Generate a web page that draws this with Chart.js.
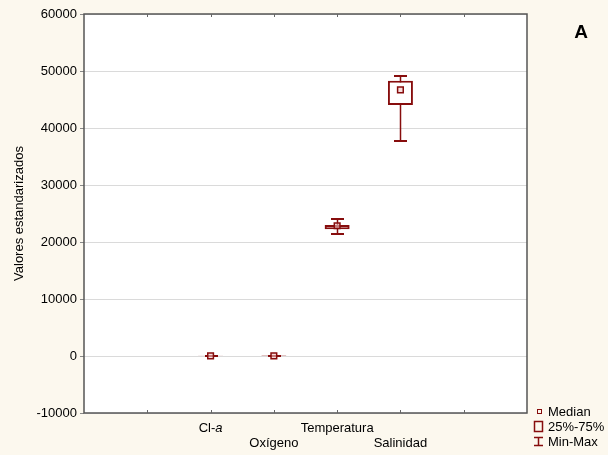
<!DOCTYPE html>
<html>
<head>
<meta charset="utf-8">
<script src="https://cdn.jsdelivr.net/npm/chart.js@4"></script>
<style>
  body { margin: 0; background: #fcf8ee; }
  #chart-root { width: 608px; height: 455px; }
</style>
</head>
<body>
<div id="chart-root"><canvas id="chart-main" width="608" height="455"></canvas></div>
<script>
// values
const categories = ["Cl-a", "Oxígeno", "Temperatura", "Salinidad"];
const mins    = [0, 0, 21350, 37700];
const q1s     = [0, 0, 22230, 44050];
const medians = [30, 10, 22850, 46700];
const q3s     = [40, 20, 22980, 48300];
const maxs    = [60, 40, 24050, 49100];
const yTicks  = [-10000, 0, 10000, 20000, 30000, 40000, 50000, 60000];

const darkRed = "#870d0d";
const fontFamily = "'Liberation Sans', Arial, sans-serif";

// two empty slots each side, like the original plot
const slotLabels = ["", ""].concat(categories, ["", ""]);
const firstSlot = 2;

const boxData = categories.map((c, i) => ({ x: c, y: [q1s[i], q3s[i]] }));
const medianData = categories.map((c, i) => ({ x: c, y: medians[i] }));

const frameAndExtras = {
    id: "frameAndExtras",
    beforeDraw(chart) {
        const ctx = chart.ctx;
        const a = chart.chartArea;
        ctx.save();
        ctx.fillStyle = "#fcf8ee";
        ctx.fillRect(0, 0, chart.width, chart.height);
        ctx.fillStyle = "#ffffff";
        ctx.fillRect(a.left, a.top, a.right - a.left, a.bottom - a.top);
        ctx.restore();
    },
    beforeDatasetsDraw(chart) {
        // whiskers go under the boxes
        const ctx = chart.ctx;
        const xs = chart.scales.x, ys = chart.scales.y;
        ctx.save();
        ctx.strokeStyle = darkRed;
        categories.forEach((c, i) => {
            const x = Math.round(xs.getPixelForValue(i + firstSlot)) + 0.5;
            const yTop = Math.round(ys.getPixelForValue(maxs[i]));
            const yBot = Math.round(ys.getPixelForValue(mins[i]));
            ctx.lineWidth = 1.5;
            ctx.beginPath();
            ctx.moveTo(x, yTop);
            ctx.lineTo(x, yBot);
            ctx.stroke();
            ctx.lineWidth = 2;
            ctx.beginPath();
            ctx.moveTo(x - 6.5, yTop);
            ctx.lineTo(x + 6.5, yTop);
            ctx.moveTo(x - 6.5, yBot);
            ctx.lineTo(x + 6.5, yBot);
            ctx.stroke();
        });
        ctx.restore();
    },
    afterDraw(chart) {
        const ctx = chart.ctx;
        const a = chart.chartArea;
        const xs = chart.scales.x;
        ctx.save();

        // frame
        ctx.strokeStyle = "#555555";
        ctx.lineWidth = 1.5;
        ctx.strokeRect(a.left, a.top, a.right - a.left, a.bottom - a.top);

        // inward x ticks, bottom and top
        ctx.lineWidth = 1;
        ctx.strokeStyle = "#666666";
        for (let k = 1; k < slotLabels.length - 1; k++) {
            const x = Math.round(xs.getPixelForValue(k)) + 0.5;
            ctx.beginPath();
            ctx.moveTo(x, a.bottom);
            ctx.lineTo(x, a.bottom - 3);
            ctx.moveTo(x, a.top);
            ctx.lineTo(x, a.top + 3);
            ctx.stroke();
        }

        // staggered category labels
        ctx.fillStyle = "#000000";
        ctx.textBaseline = "middle";
        const normal = "13px " + fontFamily;
        const italic = "italic 13px " + fontFamily;
        categories.forEach((c, i) => {
            const x = xs.getPixelForValue(i + firstSlot);
            const y = i % 2 === 0 ? a.bottom + 15 : a.bottom + 30;
            if (c === "Cl-a") {
                ctx.font = normal;
                const w1 = ctx.measureText("Cl-").width;
                ctx.font = italic;
                const w2 = ctx.measureText("a").width;
                let start = x - (w1 + w2) / 2;
                ctx.textAlign = "left";
                ctx.font = normal;
                ctx.fillText("Cl-", start, y);
                ctx.font = italic;
                ctx.fillText("a", start + w1, y);
            } else {
                ctx.font = normal;
                ctx.textAlign = "center";
                ctx.fillText(c, x, y);
            }
        });

        // legend
        ctx.font = "13px " + fontFamily;
        ctx.textAlign = "left";
        ctx.strokeStyle = darkRed;
        ctx.lineWidth = 1;
        ctx.strokeRect(537.5, 409.5, 4, 4);
        ctx.fillText("Median", 548, 412);
        ctx.lineWidth = 1.5;
        ctx.strokeRect(534.5, 421.5, 8, 10);
        ctx.fillText("25%-75%", 548, 427);
        ctx.beginPath();
        ctx.moveTo(538.5, 437);
        ctx.lineTo(538.5, 446);
        ctx.moveTo(534, 437.5);
        ctx.lineTo(543, 437.5);
        ctx.moveTo(534, 445.5);
        ctx.lineTo(543, 445.5);
        ctx.stroke();
        ctx.fillText("Min-Max", 548, 442);

        // panel letter
        ctx.font = "bold 19px " + fontFamily;
        ctx.textAlign = "center";
        ctx.fillText("A", 581, 33);
        ctx.restore();
    }
};

const graph = document.getElementById("chart-main");
const myChart = new Chart(graph, {
    type: "bar",
    data: {
        labels: slotLabels,
        datasets: [{
            type: "scatter",
            data: medianData,
            order: 0,
            pointStyle: "rect",
            pointRadius: 4,
            pointBorderWidth: 1.5,
            borderColor: darkRed,
            backgroundColor: "rgba(240,200,200,0.6)"
        }, {
            type: "bar",
            data: boxData,
            order: 1,
            barThickness: 25,
            borderWidth: 2,
            borderSkipped: false,
            inflateAmount: 0,
            borderColor: darkRed,
            backgroundColor: "#ffffff",
            grouped: false
        }]
    },
    options: {
        responsive: false,
        animation: false,
        devicePixelRatio: 1,
        layout: {
            padding: { top: 14, right: 81, bottom: 42, left: 0 }
        },
        plugins: {
            legend: { display: false },
            tooltip: { enabled: false }
        },
        scales: {
            x: {
                type: "category",
                display: false,
                offset: false,
                afterFit(scale) { scale.height = 0; }
            },
            y: {
                min: yTicks[0],
                max: yTicks[yTicks.length - 1],
                afterFit(scale) { scale.width = 84; },
                afterBuildTicks(scale) {
                    scale.ticks = yTicks.map(v => ({ value: v }));
                },
                border: { display: false },
                grid: {
                    color: "#dadada",
                    lineWidth: 1,
                    tickLength: 4,
                    tickColor: "#888888"
                },
                ticks: {
                    color: "#000000",
                    padding: 3,
                    font: { family: fontFamily, size: 13 },
                    callback: v => v.toString()
                },
                title: {
                    display: true,
                    text: "Valores estandarizados",
                    color: "#000000",
                    padding: { top: 12, bottom: 0 },
                    font: { family: fontFamily, size: 13 }
                }
            }
        }
    },
    plugins: [frameAndExtras]
});
</script>
</body>
</html>
